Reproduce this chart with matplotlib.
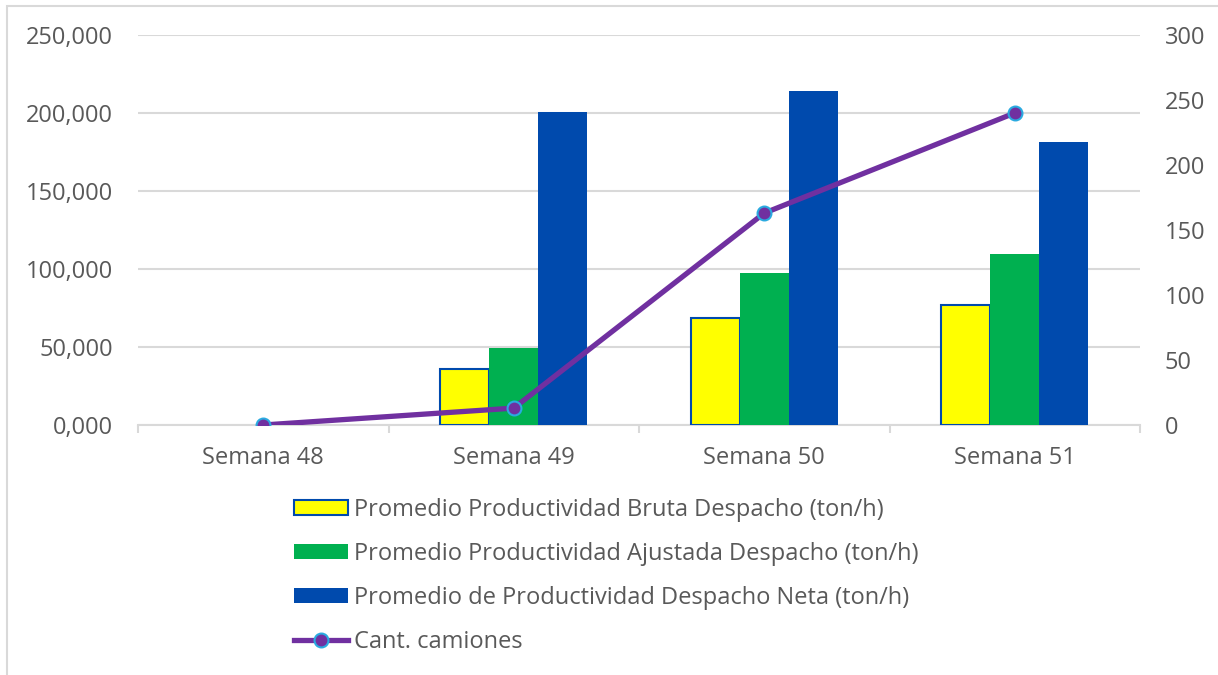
import matplotlib.pyplot as plt
import numpy as np
from matplotlib.patches import Rectangle
from matplotlib.lines import Line2D

plt.rcParams['font.family'] = ['Open Sans', 'DejaVu Sans']

# datos
semanas = ['Semana 48', 'Semana 49', 'Semana 50', 'Semana 51']
bruta = [np.nan, 35.9, 68.6, 76.9]
ajustada = [np.nan, 49.4, 97.4, 109.6]
neta = [np.nan, 200.5, 214.1, 181.4]
camiones = [0, 13, 163, 240]

nombres = ['Promedio Productividad Bruta Despacho (ton/h)',
           'Promedio Productividad Ajustada Despacho (ton/h)',
           'Promedio de Productividad Despacho Neta (ton/h)',
           'Cant. camiones']

txt = '#595959'
grid = '#D9D9D9'
fs = 17

fig = plt.figure(figsize=(12.18, 6.75), dpi=100)
ax = fig.add_axes([138 / 1218, 1 - 425 / 675, 1002 / 1218, 390 / 675])
ax2 = ax.twinx()

x = np.arange(len(semanas))
w = 0.195
ax.bar(x - w, bruta, w, color='#FFFF00', edgecolor='#004AAD', linewidth=1.5, zorder=3)
ax.bar(x, ajustada, w, color='#00B050', zorder=3)
ax.bar(x + w, neta, w, color='#004AAD', zorder=3)

ax2.plot(x, camiones, color='#7030A0', lw=3.8, marker='o', ms=10,
         mfc='#7030A0', mec='#2AAAE0', mew=1.5, solid_capstyle='round', zorder=4)

ax.set_xlim(-0.5, 3.5)
ax.set_ylim(0, 250)
ax2.set_ylim(0, 300)
ax.set_yticks(np.arange(0, 251, 50))
ax.set_yticklabels([('%.3f' % v).replace('.', ',') for v in np.arange(0, 251, 50)])
ax2.set_yticks(np.arange(0, 301, 50))

ax.set_xticks(x)
ax.set_xticklabels(semanas)
ax.set_xticks(np.arange(-0.5, 3.6, 1), minor=True)
ax.tick_params(axis='x', which='major', length=0, pad=15, labelsize=fs, labelcolor=txt)
ax.tick_params(axis='x', which='minor', length=6, width=1.5, color=grid)
ax.tick_params(axis='y', length=0, pad=18, labelsize=fs, labelcolor=txt)
ax2.tick_params(axis='y', length=0, pad=18, labelsize=fs, labelcolor=txt)

ax.grid(axis='y', color=grid, lw=1.5, zorder=0)
ax.set_axisbelow(True)
for a in (ax, ax2):
    for s in ['top', 'left', 'right']:
        a.spines[s].set_visible(False)
    a.spines['bottom'].set_color(grid)
    a.spines['bottom'].set_linewidth(1.5)
ax2.spines['bottom'].set_visible(False)
ax2.set_zorder(ax.get_zorder() + 1)
ax2.patch.set_visible(False)

handles = [Rectangle((0, 0), 1, 1, facecolor='#FFFF00', edgecolor='#004AAD', linewidth=1.5),
           Rectangle((0, 0), 1, 1, facecolor='#00B050'),
           Rectangle((0, 0), 1, 1, facecolor='#004AAD'),
           Line2D([], [], color='#7030A0', lw=3.8, marker='o', ms=10,
                  mfc='#7030A0', mec='#2AAAE0', mew=1.5)]
leg = fig.legend(handles, nombres, loc='upper left', bbox_to_anchor=(294 / 1218, 1 - 498 / 675),
                 frameon=False, fontsize=fs, handlelength=2.3, handleheight=0.6,
                 labelspacing=0.85, handletextpad=0.25, borderpad=0, borderaxespad=0)
for t in leg.get_texts():
    t.set_color(txt)

# borde del grafico
fig.patches.append(Rectangle((7 / 1218, -0.1), 1.2, 1 - 6 / 675 + 0.1, transform=fig.transFigure,
                             fill=False, edgecolor=grid, lw=1.5))

fig.savefig('out.png', dpi=100)
